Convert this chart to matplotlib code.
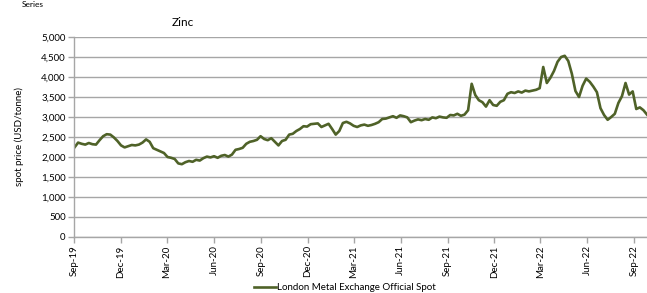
import matplotlib
matplotlib.use('Agg')
import matplotlib.pyplot as plt
import matplotlib.dates as mdates
import numpy as np
import pandas as pd

# Weekly LME zinc spot (USD/tonne)
start_date = '2019-09-02'
zinc_price = [
    2240, 2360, 2330, 2310, 2350, 2320, 2310, 2420, 2520, 2570,
    2560, 2490, 2400, 2290, 2240, 2270, 2300, 2290, 2310, 2360,
    2440, 2380, 2220, 2180, 2140, 2100, 2000, 1980, 1950, 1840,
    1820, 1870, 1900, 1880, 1930, 1910, 1970, 2010, 1990, 2020,
    1980, 2030, 2050, 2010, 2060, 2180, 2200, 2230, 2330, 2380,
    2400, 2430, 2520, 2450, 2420, 2470, 2380, 2290, 2400, 2430,
    2560, 2580, 2650, 2700, 2770, 2760, 2820, 2830, 2840, 2750,
    2790, 2830, 2700, 2560, 2650, 2850, 2880, 2840, 2780, 2750,
    2790, 2810, 2780, 2800, 2830, 2870, 2950, 2960, 2990, 3020,
    2980, 3040, 3020, 2990, 2870, 2910, 2940, 2920, 2950, 2930,
    2990, 2970, 3010, 2990, 2980, 3050, 3040, 3080, 3030, 3060,
    3170, 3830, 3550, 3420, 3370, 3260, 3420, 3300, 3280, 3380,
    3420, 3580, 3620, 3600, 3640, 3610, 3660, 3640, 3660, 3680,
    3720, 4250, 3850, 3980, 4150, 4380, 4500, 4530, 4400, 4080,
    3650, 3500, 3780, 3960, 3880, 3760, 3620, 3220, 3050, 2930,
    3000, 3080, 3350, 3520, 3850, 3560, 3640, 3200, 3240, 3170,
    3060,
]
dates = pd.date_range(start_date, periods=len(zinc_price), freq='7D')

tick_dates = pd.date_range('2019-09-01', '2022-09-01', freq='3MS')
y_ticks = np.arange(0, 5001, 500)

plt.rcParams['font.family'] = ['Lato', 'DejaVu Sans']

fig = plt.figure(figsize=(6.47, 2.93), dpi=100)
ax = fig.add_axes([74 / 647, 56 / 293, 573 / 647, 200 / 293])

line_color = '#4f6228'
grid_color = '#a6a6a6'

ax.plot(dates, zinc_price, color=line_color, linewidth=1.9,
        label='London Metal Exchange Official Spot')

ax.set_ylim(0, 5000)
ax.set_xlim(pd.Timestamp('2019-09-01'), dates[-1])
ax.set_yticks(y_ticks)
ax.set_yticklabels([f'{v:,}' for v in y_ticks])
ax.set_xticks(tick_dates)
ax.xaxis.set_major_formatter(mdates.DateFormatter('%b-%y'))
plt.setp(ax.get_xticklabels(), rotation=90)

ax.yaxis.grid(True, color=grid_color, linewidth=1.0)
ax.set_axisbelow(True)
for side in ['top', 'right']:
    ax.spines[side].set_visible(False)
for side in ['left', 'bottom']:
    ax.spines[side].set_color(grid_color)
    ax.spines[side].set_linewidth(1.0)
ax.tick_params(axis='both', colors=grid_color, length=4, width=1.0,
               labelsize=7, labelcolor='#000000', pad=2)

ax.set_ylabel('spot price (USD/tonne)', fontsize=7, labelpad=12)

fig.text(183 / 647, 1 - 22 / 293, 'Zinc', fontsize=8.5, ha='center', va='center')
fig.text(22 / 647, 0.998, 'Series', fontsize=6, ha='left', va='top')

fig.legend(loc='center', bbox_to_anchor=(345 / 647, 5 / 293), frameon=False,
           fontsize=7, handlelength=2.2, handletextpad=0.1, borderaxespad=0)

fig.savefig('out.png', dpi=100)
